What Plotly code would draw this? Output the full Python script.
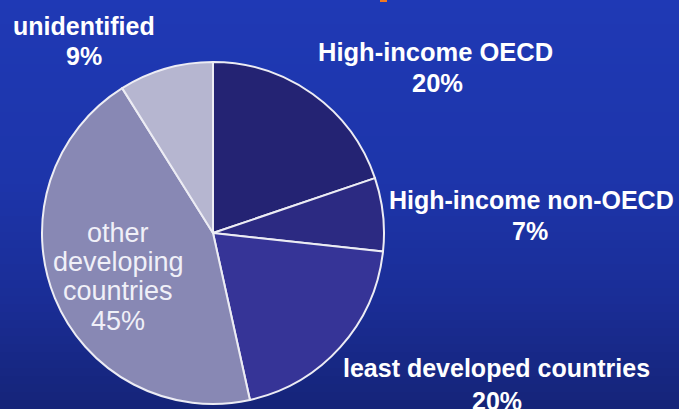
import plotly.graph_objects as go

# Data
categories = ["High-income OECD", "High-income non-OECD", "least developed countries",
              "other developing countries", "unidentified"]
shares = [20, 7, 20, 45, 9]
slice_colors = ["#242373", "#2c2a82", "#363497", "#8888b4", "#b6b6d0"]

W, H = 679, 409

def px(x):
    return x / W

def py(y):
    return 1 - y / H

fig = go.Figure()

cx, cy, r = 213, 233, 171
fig.add_trace(go.Pie(
    labels=categories,
    values=shares,
    sort=False,
    direction="clockwise",
    rotation=0,
    textinfo="none",
    hoverinfo="label+percent",
    marker=dict(colors=slice_colors, line=dict(color="#ececf4", width=2)),
    domain=dict(x=[px(cx - r), px(cx + r)], y=[py(cy + r), py(cy - r)]),
    showlegend=False,
))

# Background gradient (top to bottom)
stops = [(0, (31, 57, 181)), (180, (29, 53, 170)), (300, (26, 45, 150)), (409, (21, 36, 120))]

def col_at(y):
    for (y0, c0), (y1, c1) in zip(stops[:-1], stops[1:]):
        if y0 <= y <= y1:
            t = (y - y0) / (y1 - y0)
            return "rgb(%d,%d,%d)" % tuple(round(a + (b - a) * t) for a, b in zip(c0, c1))
    return "rgb(%d,%d,%d)" % stops[-1][1]

shapes = []
step = 8
for y in range(0, H, step):
    shapes.append(dict(type="rect", xref="paper", yref="paper", layer="below",
                       x0=0, x1=1, y0=py(min(y + step, H)), y1=py(y),
                       fillcolor=col_at(y + step / 2), line=dict(width=0)))
shapes.append(dict(type="rect", xref="paper", yref="paper", layer="above",
                   x0=px(380), x1=px(387), y0=py(2), y1=py(0),
                   fillcolor="#f07820", line=dict(width=0)))

font_family = "Liberation Sans"
lines = [
    ("<b>unidentified</b>", 84, 26, "white", 25),
    ("<b>9%</b>", 84, 56, "white", 25),
    ("<b>High-income OECD</b>", 435, 52, "white", 25.5),
    ("<b>20%</b>", 437, 83, "white", 25.5),
    ("<b>High-income non-OECD</b>", 531, 200, "white", 25),
    ("<b>7%</b>", 530, 231, "white", 25),
    ("<b>least developed countries</b>", 497, 368, "white", 25),
    ("<b>20%</b>", 497, 401, "white", 25),
    ("other", 118, 233, "#f0f0f8", 27),
    ("developing", 118, 262, "#f0f0f8", 27),
    ("countries", 118, 291, "#f0f0f8", 27),
    ("45%", 118, 321, "#f0f0f8", 27),
]
annotations = [dict(text=t, x=px(x), y=py(y), xref="paper", yref="paper",
                    xanchor="center", yanchor="middle", showarrow=False,
                    font=dict(family=font_family, size=s, color=c))
               for t, x, y, c, s in lines]

fig.update_layout(
    width=W, height=H,
    margin=dict(l=0, r=0, t=0, b=0),
    paper_bgcolor="#1c34a8",
    plot_bgcolor="rgba(0,0,0,0)",
    shapes=shapes,
    annotations=annotations,
)

fig.write_html("out.html")
